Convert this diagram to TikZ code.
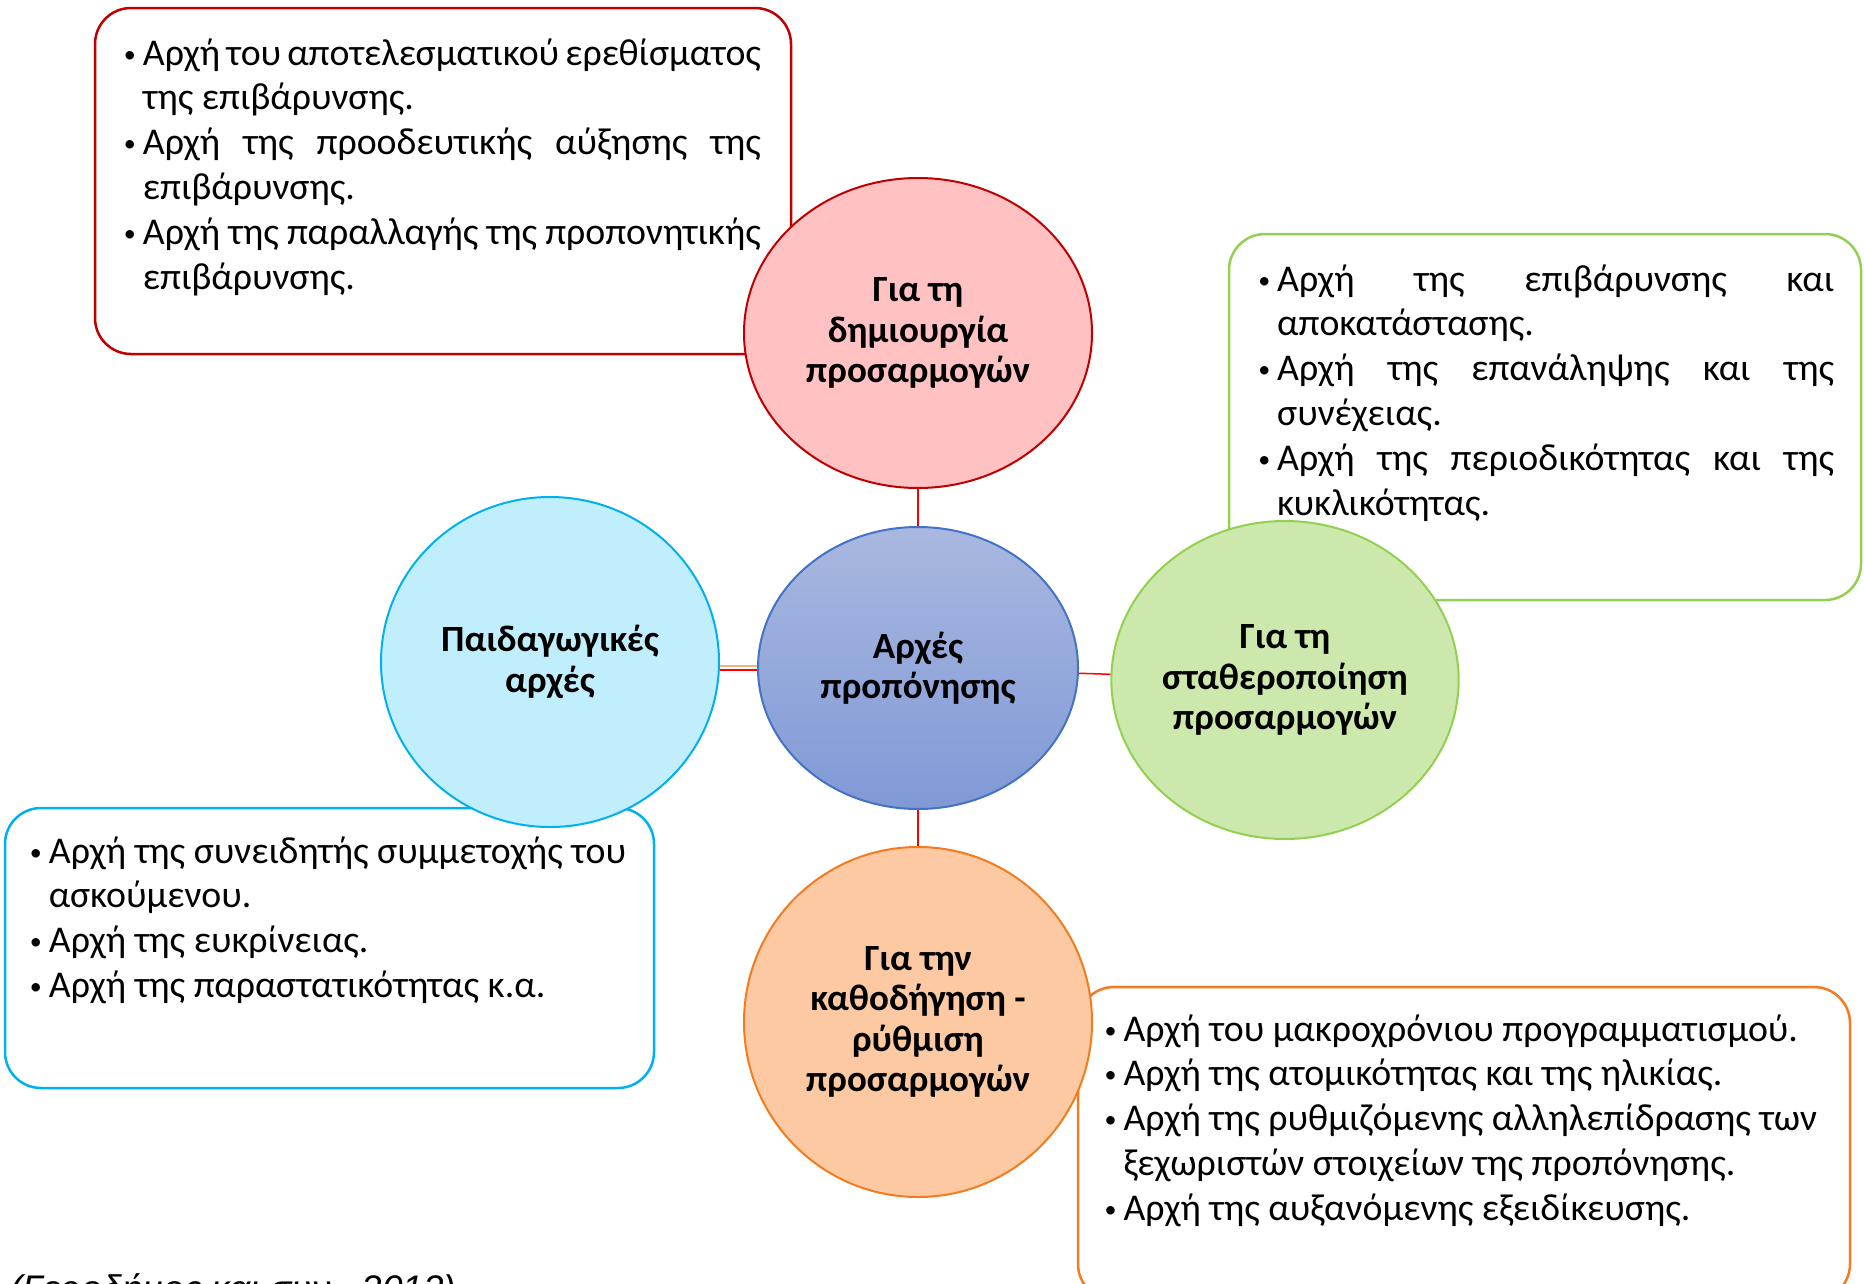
\documentclass[tikz,border=0pt]{standalone}
\usepackage{fontspec}
\setmainfont{Carlito}
\newfontfamily\citefont{Liberation Sans}
\usetikzlibrary{shapes.geometric}
\definecolor{cRedLine}{HTML}{C00000}
\definecolor{cRedFill}{HTML}{FFC1C1}
\definecolor{cGrnLine}{HTML}{92D050}
\definecolor{cGrnFill}{HTML}{CCE8AC}
\definecolor{cBluLine}{HTML}{00B0F0}
\definecolor{cBluFill}{HTML}{C0EEFD}
\definecolor{cOrgLine}{HTML}{F47B20}
\definecolor{cOrgFill}{HTML}{FCC9A2}
\definecolor{cCtrLine}{HTML}{4472C4}
\definecolor{cCtrTop}{HTML}{A9B8E0}
\definecolor{cCtrBot}{HTML}{8099D6}
\definecolor{cConn}{HTML}{FF0000}
\definecolor{cConnO}{HTML}{F4B183}
\newcommand\bpt[1]{\par\noindent\hangindent=14pt\hangafter=1\hbox to 14pt{\hss\raisebox{3pt}{\fontsize{24}{24}\selectfont\textbullet}\kern 7pt}\ignorespaces#1}
\newcommand\boxtext[2]{\vtop{\hsize=#1\parindent=0pt\hyphenpenalty=10000\exhyphenpenalty=10000
  \fontsize{37.8}{44.8}\selectfont #2\par}}
\tikzset{
  infobox/.style={draw, line width=2.5pt, rounded corners=36pt, fill=white, inner sep=0pt},
  circ/.style={ellipse, line width=2pt, inner sep=0pt, align=center,
     font=\fontsize{37}{40.4}\selectfont\bfseries},
  conn/.style={draw=cConn, line width=1.5pt},
  connO/.style={draw=cConnO, line width=2.5pt},
  btext/.style={anchor=base west, inner sep=0pt}
}
\begin{document}
\begin{tikzpicture}[x=1pt,y=-1pt]
\useasboundingbox (0,0) rectangle (1864,1283);
\clip (0,0) rectangle (1864,1283);
\fill[white] (0,0) rectangle (1864,1283);
% boxes
\node[infobox, draw=cRedLine, minimum width=696pt, minimum height=346pt] (rb) at (443,181) {};
\node[infobox, draw=cGrnLine, minimum width=632pt, minimum height=366pt] (gb) at (1545,417) {};
\node[infobox, draw=cBluLine, minimum width=649pt, minimum height=280pt] (bb) at (329.5,948) {};
\node[infobox, draw=cOrgLine, minimum width=772pt, minimum height=313pt] (ob) at (1464,1143.5) {};
% box texts
\node[btext] (rt) at (128.7,65) {\boxtext{632pt}{%
\bpt{Αρχή του αποτελεσματικού ερεθίσματος\linebreak της επιβάρυνσης.}
\bpt{Αρχή της προοδευτικής αύξησης της\linebreak επιβάρυνσης.}
\bpt{Αρχή της παραλλαγής της προπονητικής\linebreak επιβάρυνσης.}}};
\node[btext] (gt) at (1263,291) {\boxtext{571pt}{%
\bpt{Αρχή της επιβάρυνσης και\linebreak αποκατάστασης.}
\bpt{Αρχή της επανάληψης και της\linebreak συνέχειας.}
\bpt{Αρχή της περιοδικότητας και της\linebreak κυκλικότητας.}}};
\node[btext] (bt) at (34.7,863) {\boxtext{610pt}{\raggedright
\bpt{Αρχή της συνειδητής συμμετοχής του\linebreak ασκούμενου.}
\bpt{Αρχή της ευκρίνειας.}
\bpt{Αρχή της παραστατικότητας κ.α.}}};
\node[btext] (ot) at (1109.4,1041) {\boxtext{730pt}{\raggedright
\bpt{Αρχή του μακροχρόνιου προγραμματισμού.}
\bpt{Αρχή της ατομικότητας και της ηλικίας.}
\bpt{Αρχή της ρυθμιζόμενης αλληλεπίδρασης των\linebreak ξεχωριστών στοιχείων της προπόνησης.}
\bpt{Αρχή της αυξανόμενης εξειδίκευσης.}}};
% circles
\node[circ, draw=cCtrLine, top color=cCtrTop, bottom color=cCtrBot, minimum width=320pt, minimum height=282pt] (pc) at (918,668) {Αρχές\\προπόνησης};
\node[circ, draw=cRedLine, fill=cRedFill, minimum width=348pt, minimum height=310pt] (pr) at (918,333) {Για τη\\δημιουργία\\προσαρμογών};
\node[circ, draw=cGrnLine, fill=cGrnFill, minimum width=340pt, minimum height=318pt] (pg) at (1285,680) {Για τη\\σταθεροποίηση\\προσαρμογών};
\node[circ, draw=cBluLine, fill=cBluFill, minimum width=338pt, minimum height=330pt] (pb) at (550,662) {Παιδαγωγικές\\αρχές};
\node[circ, draw=cOrgLine, fill=cOrgFill, minimum width=348pt, minimum height=350pt] (po) at (918,1022) {Για την\\καθοδήγηση -\\ρύθμιση\\προσαρμογών};
% connectors
\draw[conn] (pr) -- (pc);
\draw[conn] (pc) -- (po);
\draw[conn] (pc) -- (pg);
\draw[connO] ([yshift=-4pt]pb.east) -- ([yshift=2pt]pc.west);
\draw[conn] ([yshift=-8pt]pb.east) -- ([yshift=-2pt]pc.west);
% citation (cut off at bottom edge, as in the reference)
\node[anchor=base west, inner sep=0pt, font=\citefont\itshape\fontsize{37}{42}\selectfont] (cite) at (10,1301) {(Γεροδήμος και συν., 2012)};
\end{tikzpicture}
\end{document}
